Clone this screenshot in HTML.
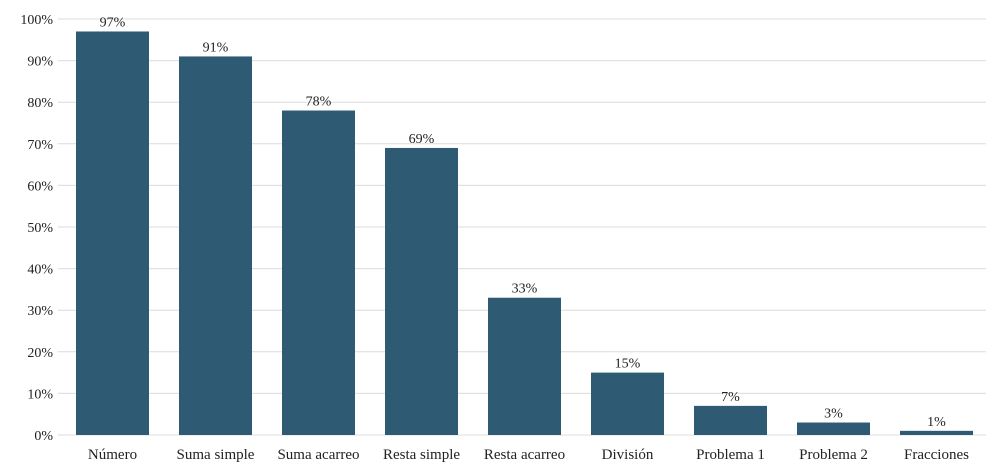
<!DOCTYPE html>
<html><head><meta charset="utf-8"><style>
body{margin:0;background:#fff;}
svg text{font-family:"Liberation Serif",serif;fill:#222;}
</style></head><body>
<svg id="chart" width="996" height="470"></svg>
<script>
const categories=["Número","Suma simple","Suma acarreo","Resta simple","Resta acarreo","División","Problema 1","Problema 2","Fracciones"];
const values=[97,91,78,69,33,15,7,3,1];
const ticks=[0,10,20,30,40,50,60,70,80,90,100];
const svg=document.getElementById('chart');
const NS='http://www.w3.org/2000/svg';
const x0=61,band=103,barW=73,yBase=435,yTop=19;
function y(v){return yBase-(v/100)*(yBase-yTop);}
function xb(i){return x0+i*band+(band-barW)/2;}
function mk(t,a){const e=document.createElementNS(NS,t);for(const k in a)e.setAttribute(k,a[k]);svg.appendChild(e);return e;}
ticks.forEach(t=>{
  const l=mk('line',{x1:58,x2:986,y1:y(t),y2:y(t),stroke:'#dcdcdc','stroke-width':1});
  
  
  const tx=mk('text',{x:53,y:y(t)+5,'text-anchor':'end','font-size':14});
  tx.textContent=t+'%';
  
  
});
values.forEach((v,i)=>{
  const r=mk('rect',{x:xb(i),y:y(v),width:barW,height:yBase-y(v),fill:'#2e5b73'});
  
  
  const lb=mk('text',{x:xb(i)+barW/2,y:y(v)-5,'text-anchor':'middle','font-size':14});
  lb.textContent=v+'%';
  
  
  const c=mk('text',{x:xb(i)+barW/2,y:459,'text-anchor':'middle','font-size':15});
  c.textContent=categories[i];
  
  
});
</script>
</body></html>
